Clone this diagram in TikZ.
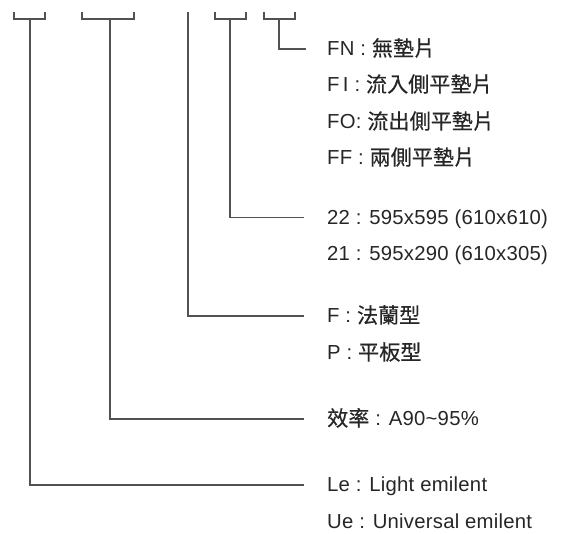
\documentclass[tikz,border=0pt]{standalone}
\usepackage{fontspec}
\setmainfont{Liberation Sans}[LetterSpace=1.2]
\newfontfamily\cjk{Noto Sans CJK TC}[FakeBold=0.5,Scale=1.04]
\begin{document}
\begin{tikzpicture}[x=1pt,y=-1pt,
  conn/.style={draw=black!68,line width=1.3pt},
  lbl/.style={anchor=base west,inner sep=0pt,text=black!85,font=\fontsize{20.3}{22}\selectfont}]
\useasboundingbox (0,0) rectangle (566,534);
% brackets
\coordinate (b1) at (30,19);
\coordinate (b2) at (110,19);
\coordinate (b3) at (188,12);
\coordinate (b4) at (230,19);
\coordinate (b5) at (279,19);
\draw[conn] (14,12) -- (14,19) -- (45,19) -- (45,12);
\draw[conn] (82,12) -- (82,19) -- (134,19) -- (134,12);
\draw[conn] (215,12) -- (215,19) -- (246,19) -- (246,12);
\draw[conn] (264,12) -- (264,19) -- (295,19) -- (295,12);
% labels
\node[lbl] (fn) at (327,56) {FN : {\cjk 無墊片}};
\node[lbl] (fi) at (327,92) {F\,I : {\cjk 流入側平墊片}};
\node[lbl] (fo) at (327,129) {FO: {\cjk 流出側平墊片}};
\node[lbl] (ff) at (327,165) {FF : {\cjk 兩側平墊片}};
\node[lbl] (s22) at (327,224.5) {22 : 595x595 (610x610)};
\node[lbl] (s21) at (327,261) {21 : 595x290 (610x305)};
\node[lbl] (tf) at (327,323) {F : {\cjk 法蘭型}};
\node[lbl] (tp) at (327,360) {P : {\cjk 平板型}};
\node[lbl] (eff) at (327,426) {{\cjk 效率} : A90\char`~95\%};
\node[lbl] (le) at (327,492) {Le : Light emilent};
\node[lbl] (ue) at (327,529) {Ue : Universal emilent};
% connectors
\draw[conn] (b5) |- ([shift={(-21pt,7pt)}]fn.base west);
\draw[conn] (b4) |- ([shift={(-23pt,7pt)}]s22.base west);
\draw[conn] (b3) |- ([shift={(-23pt,7pt)}]tf.base west);
\draw[conn] (b2) |- ([shift={(-23pt,7pt)}]eff.base west);
\draw[conn] (b1) |- ([shift={(-23pt,7pt)}]le.base west);
\end{tikzpicture}
\end{document}
